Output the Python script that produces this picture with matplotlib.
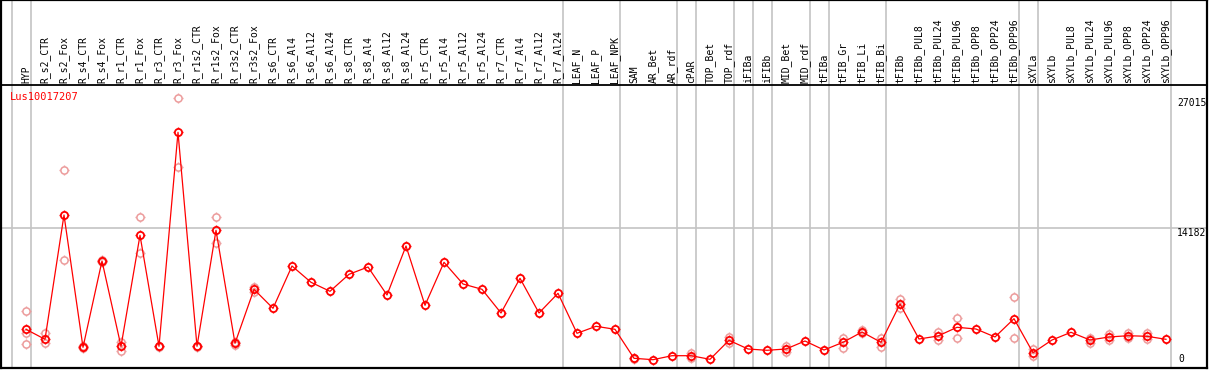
import matplotlib
matplotlib.use('Agg')
import matplotlib.pyplot as plt
from matplotlib.path import Path
from matplotlib.transforms import blended_transform_factory
import numpy as np

# Samples (column headers)
samples = ['HYP', 'R_s2_CTR', 'R_s2_Fox', 'R_s4_CTR', 'R_s4_Fox', 'R_r1_CTR', 'R_r1_Fox',
           'R_r3_CTR', 'R_r3_Fox', 'R_r1s2_CTR', 'R_r1s2_Fox', 'R_r3s2_CTR', 'R_r3s2_Fox',
           'R_s6_CTR', 'R_s6_Al4', 'R_s6_Al12', 'R_s6_Al24', 'R_s8_CTR', 'R_s8_Al4',
           'R_s8_Al12', 'R_s8_Al24', 'R_r5_CTR', 'R_r5_Al4', 'R_r5_Al12', 'R_r5_Al24',
           'R_r7_CTR', 'R_r7_Al4', 'R_r7_Al12', 'R_r7_Al24', 'LEAF_N', 'LEAF_P', 'LEAF_NPK',
           'SAM', 'AR_Bet', 'AR_rdf', 'cPAR', 'TOP_Bet', 'TOP_rdf', 'iFIBa', 'iFIBb',
           'MID_Bet', 'MID_rdf', 'tFIBa', 'tFIB_Gr', 'tFIB_Li', 'tFIB_Bi', 'tFIBb',
           'tFIBb_PUL8', 'tFIBb_PUL24', 'tFIBb_PUL96', 'tFIBb_OPP8', 'tFIBb_OPP24',
           'tFIBb_OPP96', 'sXYLa', 'sXYLb', 'sXYLb_PUL8', 'sXYLb_PUL24', 'sXYLb_PUL96',
           'sXYLb_OPP8', 'sXYLb_OPP24', 'sXYLb_OPP96']

# mean expression per sample
means = [4214, 3227, 15496, 2438, 10956, 2537, 13492, 2537, 23658, 2537, 13986, 2833, 8162,
         6287, 10462, 8853, 7965, 9643, 10364, 7600, 12436, 6583, 10827, 8686, 8162,
         5823, 9248, 5823, 7768, 3820, 4511, 4214,
         1352, 1214, 1609, 1609, 1253, 3129, 2270, 2142,
         2270, 3060, 2171, 2931, 3948, 2931, 6712,
         3257, 3553, 4412, 4244, 3455, 5261,
         1905, 3158, 3918, 3158, 3455, 3583, 3524, 3227]

# replicate values (empty where they sit under the mean)
replicates = [[5991, 3820, 2734], [3820, 2833], [19908, 11054], [2566, 2369], [10856, 11056],
              [2991, 2102], [15269, 11716], [2500, 2570], [27015, 20263], [2500, 2570],
              [15269, 12703], [3000, 2660], [8419, 7926],
              [], [], [], [], [], [], [], [], [], [], [], [], [], [], [], [],
              [], [], [],
              [1400, 1300], [], [], [1846, 1352], [], [3484, 2892], [], [],
              [2566, 2004], [], [], [3326, 2339], [4175, 3820], [3326, 2497], [7205, 6287],
              [], [3918, 3158], [5300, 3385], [], [], [7373, 3326],
              [2240, 1579], [], [], [3326, 2892], [3721, 3190], [3879, 3326], [3820, 3228], []]

# number of samples in each tissue group (separated by grey lines)
group_sizes = [1, 28, 3, 3, 1, 2, 1, 1, 2, 1, 3, 7, 1, 7]

gene = 'Lus10017207'
tick_values = [27015, 14182, 0]

RED = '#ff0000'
PINK = '#ec9a9a'
GREY = '#c4c4c4'

plt.rcParams['font.family'] = 'DejaVu Sans Mono'

fig = plt.figure(figsize=(12.09, 3.70), dpi=100)
ax = fig.add_axes([1 / 1209, 2 / 370, 1206 / 1209, 368 / 370])
ax.set_xlim(-25 / 19, 1181 / 19)
ax.set_ylim(395, 36716)
ax.set_xticks([])
ax.set_yticks([])
for s in ax.spines.values():
    s.set_linewidth(1.6)
    s.set_color('black')

hdr = 1 - 85 / 368  # header divider in axes fraction
ax.axhline(tick_values[1], color=GREY, lw=1.2, zorder=1)
ax.axhline(ax.get_ylim()[0] + (ax.get_ylim()[1] - ax.get_ylim()[0]) * hdr,
           color='black', lw=1.3, zorder=3)

# group separators
bounds = [-1] + list(np.cumsum(group_sizes) - 1)
for b in bounds:
    ax.axvline(b + 0.24, color=GREY, lw=1.2, zorder=1)

# small ticks around the circle markers
stubs = Path([(0, 1), (0, 1.45), (0, -1), (0, -1.45), (1, 0), (1.45, 0), (-1, 0), (-1.45, 0)],
             [Path.MOVETO, Path.LINETO] * 4)
CIRC_MS = 5.2
STUB_MS = 7.6

x = np.arange(len(samples))
rx, ry = [], []
for i, r in enumerate(replicates):
    for v in r:
        rx.append(i)
        ry.append(v)
ax.plot(rx, ry, ls='none', marker='o', ms=CIRC_MS, mfc='none', mec=PINK, mew=1.1, zorder=2)
ax.plot(rx, ry, ls='none', marker=stubs, ms=STUB_MS, mec=PINK, mew=1.0, zorder=2)
ax.plot(x, means, color=RED, lw=0.9, zorder=4)
ax.plot(x, means, ls='none', marker='o', ms=CIRC_MS, mfc='none', mec=RED, mew=1.3, zorder=5)
ax.plot(x, means, ls='none', marker=stubs, ms=STUB_MS, mec=RED, mew=1.0, zorder=5)

# column headers
tr = blended_transform_factory(ax.transData, ax.transAxes)
for i, name in enumerate(samples):
    ax.text(i, 1 - 83 / 368, name, rotation=90, ha='center', va='bottom',
            fontsize=7, transform=tr)

ax.text(9 / 1206, 1 - 92 / 368, gene, color=RED, fontsize=7.5, ha='left', va='top',
        transform=ax.transAxes)

# value labels on the right
lx = 1176 / 1206
ax.text(lx, tick_values[0], str(tick_values[0]), fontsize=7, ha='left', va='top',
        transform=blended_transform_factory(ax.transAxes, ax.transData))
ax.text(lx, tick_values[1], str(tick_values[1]), fontsize=7, ha='left', va='top',
        transform=blended_transform_factory(ax.transAxes, ax.transData))
ax.text(1177 / 1206, 4 / 368, str(tick_values[2]), fontsize=7, ha='left', va='bottom',
        transform=ax.transAxes)

fig.savefig('out.png', dpi=100)
